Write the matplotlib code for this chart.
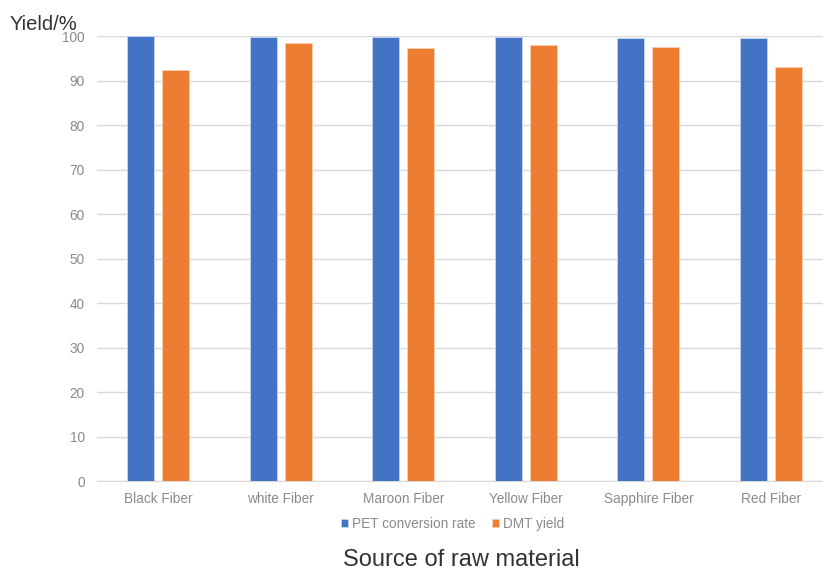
import matplotlib.pyplot as plt
import numpy as np

categories = ['Black Fiber', 'white Fiber', 'Maroon Fiber', 'Yellow Fiber', 'Sapphire Fiber', 'Red Fiber']
pet_conversion = [100.0, 99.8, 99.8, 99.8, 99.6, 99.6]
dmt_yield = [92.4, 98.5, 97.3, 98.0, 97.5, 93.0]
yticks = np.arange(0, 101, 10)

plt.rcParams['font.family'] = ['Liberation Sans', 'DejaVu Sans']

fig = plt.figure(figsize=(8.23, 5.72), dpi=100)
ax = fig.add_axes([0.118, 0.159, 0.893, 0.778])

x = np.arange(len(categories))
w = 0.22
ax.bar(x - 0.143, pet_conversion, w, color='#4472C4', edgecolor='#c9d6ee', linewidth=0.6,
       label='PET conversion rate', zorder=3)
ax.bar(x + 0.143, dmt_yield, w, color='#ED7D31', edgecolor='#f8cfb3', linewidth=0.6,
       label='DMT yield', zorder=3)

ax.set_xlim(-0.5, len(categories) - 0.5)
ax.set_ylim(0, 100)
ax.set_yticks(yticks)
ax.set_xticks(x)
ax.set_xticklabels(categories)
ax.tick_params(axis='both', length=0, colors='#8a8a8a', labelsize=9.8)
ax.tick_params(axis='x', pad=8)
ax.tick_params(axis='y', pad=9)
ax.yaxis.grid(True, color='#d9d9d9', linewidth=1, zorder=0)
for s in ['top', 'right', 'left']:
    ax.spines[s].set_visible(False)
ax.spines['bottom'].set_color('#d9d9d9')

# axis titles placed as free text, like the original
fig.text(0.012, 0.958, 'Yield/%', fontsize=14.5, color='#333333', va='center', ha='left')
fig.text(0.560, 0.021, 'Source of raw material', fontsize=17, color='#333333', ha='center', va='center')

leg = ax.legend(loc='upper center', bbox_to_anchor=(0.484, -0.053), ncol=2, frameon=False,
                fontsize=9.8, handlelength=0.5, handleheight=0.5, handletextpad=0.3,
                columnspacing=1.2, labelcolor='#8a8a8a')

plt.savefig('out.png', dpi=100)
